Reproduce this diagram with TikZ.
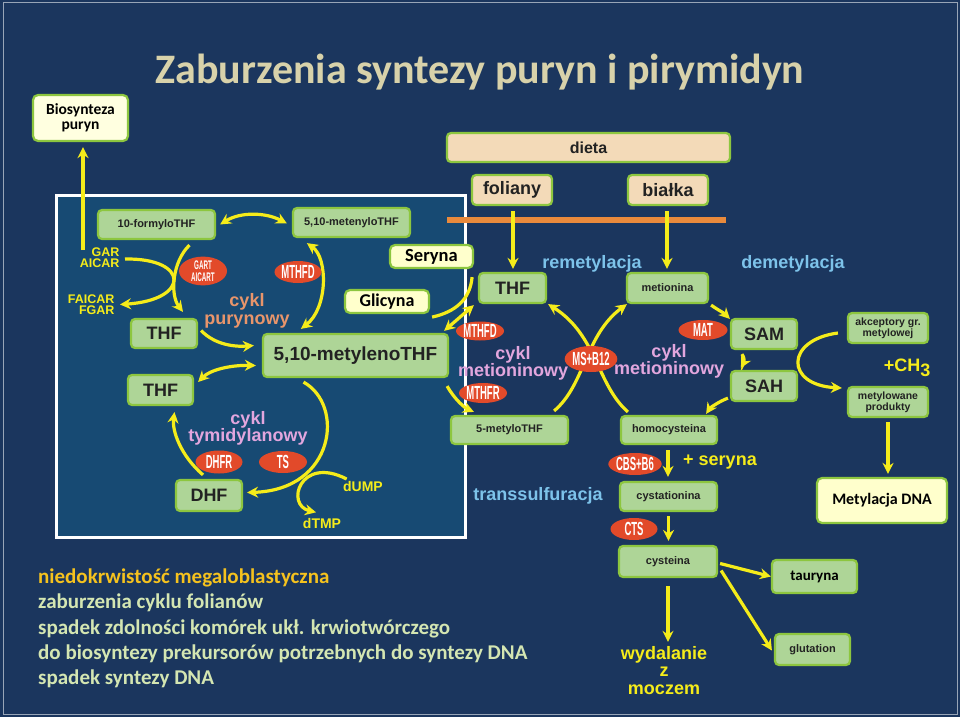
\documentclass[tikz,border=0pt]{standalone}
\usepackage{fontspec}
\setmainfont{Carlito}
\newfontfamily\ls{Liberation Sans}
\newfontfamily\enzf[FakeStretch=0.5]{Liberation Sans}
\usetikzlibrary{arrows.meta,calc,shapes.geometric}
\newcommand\fsz[1]{\fontsize{#1}{#1}\selectfont}
\definecolor{bgc}{HTML}{1B365E}
\definecolor{panelc}{HTML}{174A73}
\definecolor{gborder}{HTML}{8DC63F}
\definecolor{gfill}{HTML}{AED597}
\definecolor{yfill}{HTML}{FFFFCC}
\definecolor{tfill}{HTML}{F3DAB8}
\definecolor{boxtext}{HTML}{222222}
\definecolor{enzred}{HTML}{E24A2A}
\definecolor{arrowy}{HTML}{F5EC1A}
\definecolor{titlec}{HTML}{D8D2AA}
\definecolor{salmon}{HTML}{E8956B}
\definecolor{pinkc}{HTML}{E2A6DE}
\definecolor{bluec}{HTML}{7DC3EA}
\definecolor{goldc}{HTML}{F5C21E}
\definecolor{paleg}{HTML}{D4E6B2}
\definecolor{orangel}{HTML}{E98A3C}
\pgfdeclarelayer{back}
\pgfdeclarelayer{lines}
\pgfsetlayers{back,lines,main}
\tikzset{
  gbox/.style={draw=gborder, line width=2.2pt, fill=gfill, rounded corners=4pt, inner sep=0pt, text=boxtext, font=\ls\bfseries\fsz{#1}},
  gbox/.default=11,
  ybox/.style={draw=gborder, line width=2.2pt, fill=yfill, rounded corners=5pt, inner sep=0pt, text=black, font=\bfseries\fsz{#1}, align=center},
  ybox/.default=16,
  tbox/.style={gbox=#1, fill=tfill},
  enzyme/.style={ellipse, fill=enzred, inner sep=0pt, text=white, font=\enzf\bfseries\fsz{19}},
  lbl/.style={font=\ls\bfseries\fsz{#1}, align=center},
  lbl/.default=18,
  arr/.style={draw=arrowy, line width=3.2pt, -{Stealth[length=11pt,width=11pt]}},
  darr/.style={draw=arrowy, line width=3.2pt, {Stealth[length=11pt,width=11pt]}-{Stealth[length=11pt,width=11pt]}},
  plainy/.style={draw=arrowy, line width=3.2pt},
}
\begin{document}
\begin{tikzpicture}[x=1pt,y=-1pt]
\useasboundingbox (0,0) rectangle (960,717);
\begin{pgfonlayer}{back}
  \fill[bgc] (0,0) rectangle (960,717);
  \draw[color=white!55!bgc, line width=1pt] (3,3) rectangle (957,714);
  \draw[white, line width=3pt, fill=panelc] (56,195) rectangle (465,537);
  \draw[orangel, line width=6pt] (447,220) -- (726,220);
\end{pgfonlayer}

% title
\node[font=\bfseries\fsz{42}, text=titlec] (title) at (480,72) {Zaburzenia syntezy puryn i pirymidyn};

% left panel nodes
\node[ybox=15.5, minimum width=95pt, minimum height=46pt, fill=yfill!60!white] (biosyn) at (80.5,118) {Biosynteza\\[-1pt]puryn};
\node[gbox=11, minimum width=117pt, minimum height=29pt] (form10) at (156.5,224.5) {10-formyloTHF};
\node[gbox=11, minimum width=117pt, minimum height=29pt] (meten) at (351.5,222.5) {5,10-metenyloTHF};
\node[gbox=18, minimum width=66pt, minimum height=29pt] (thfA) at (164,333.5) {THF};
\node[gbox=19, minimum width=185pt, minimum height=43pt] (metyl) at (355.5,355.5) {5,10-metylenoTHF};
\node[gbox=18, minimum width=65pt, minimum height=30pt] (thfB) at (160.5,390) {THF};
\node[gbox=18, minimum width=66pt, minimum height=31pt] (dhf) at (209,495.5) {DHF};
\node[ybox=18.5, minimum width=83pt, minimum height=23pt] (seryna) at (431.5,256.5) {Seryna};
\node[ybox=18, minimum width=84pt, minimum height=23pt] (glicyna) at (387,301.5) {Glicyna};

\node[enzyme, minimum width=48pt, minimum height=25pt, font=\enzf\bfseries\fontsize{12.5}{11.5}\selectfont, align=center] (gart) at (203,271) {GART\\AICART};
\node[enzyme, minimum width=47pt, minimum height=22pt] (mthfdA) at (298,272) {MTHFD};
\node[enzyme, minimum width=47pt, minimum height=23pt] (dhfr) at (219,462) {DHFR};
\node[enzyme, minimum width=48pt, minimum height=22pt] (ts) at (283,462) {TS};

\node[font=\ls\bfseries\fontsize{12.5}{11}\selectfont, text=arrowy, align=right, anchor=east] (gar) at (123,258) {GAR\\AICAR};
\node[font=\ls\bfseries\fontsize{12.5}{11}\selectfont, text=arrowy, align=right, anchor=east] (faicar) at (118,304.5) {FAICAR\\FGAR};
\node[font=\ls\bfseries\fontsize{18}{18}\selectfont, text=salmon, align=center] (cyklP) at (247,311) {cykl\\purynowy};
\node[font=\ls\bfseries\fontsize{18}{17}\selectfont, text=pinkc, align=center] (cyklT) at (248,428) {cykl\\tymidylanowy};
\node[lbl=14, text=arrowy] (dump) at (363,486) {dUMP};
\node[lbl=14, text=arrowy] (dtmp) at (322,523) {dTMP};

% right part nodes
\node[tbox=16, minimum width=283pt, minimum height=29pt] (dieta) at (588.5,147.5) {dieta};
\node[tbox=18, minimum width=80pt, minimum height=30pt] (foliany) at (512,190) {foliany};
\node[tbox=18, minimum width=80pt, minimum height=30pt] (bialka) at (668,190) {białka};
\node[gbox=18, minimum width=67pt, minimum height=30pt] (thfR) at (512.5,288) {THF};
\node[gbox=11, minimum width=81pt, minimum height=30pt] (metionina) at (667.5,288) {metionina};
\node[gbox=18, minimum width=66pt, minimum height=30pt] (sam) at (764,334) {SAM};
\node[gbox=18, minimum width=66pt, minimum height=30pt] (sah) at (764,386) {SAH};
\node[gbox=10.5, minimum width=80pt, minimum height=30pt, align=center, font=\ls\bfseries\fontsize{10.5}{11}\selectfont] (akcept) at (888,328) {akceptory gr.\\metylowej};
\node[gbox=10.5, minimum width=80pt, minimum height=30pt, align=center, font=\ls\bfseries\fontsize{10.5}{11}\selectfont] (metprod) at (888,402) {metylowane\\produkty};
\node[ybox=16, minimum width=130pt, minimum height=45pt] (metdna) at (882,500.5) {Metylacja DNA};
\node[gbox=11, minimum width=117pt, minimum height=28pt] (mthf5) at (509.5,430) {5-metyloTHF};
\node[gbox=11, minimum width=96pt, minimum height=28pt] (hcy) at (669,430) {homocysteina};
\node[gbox=11, minimum width=97pt, minimum height=29pt] (cysta) at (668.5,496.5) {cystationina};
\node[gbox=11, minimum width=98pt, minimum height=31pt] (cyst) at (668,561.5) {cysteina};
\node[gbox=15, minimum width=85pt, minimum height=33pt, font=\bfseries\fsz{15}, text=black] (tauryna) at (814.5,576.5) {tauryna};
\node[gbox=11, minimum width=75pt, minimum height=31pt] (glut) at (812.5,649.5) {glutation};

\node[enzyme, minimum width=48pt, minimum height=19pt] (mthfdB) at (480,331) {MTHFD};
\node[enzyme, minimum width=49pt, minimum height=20pt] (mat) at (703,330) {MAT};
\node[enzyme, minimum width=49pt, minimum height=26pt] (msb) at (591,359) {MS+B12};
\node[enzyme, minimum width=48pt, minimum height=20pt] (mthfr) at (483,393) {MTHFR};
\node[enzyme, minimum width=47pt, minimum height=22pt] (cbs) at (635,464) {CBS+B6};
\node[enzyme, minimum width=47pt, minimum height=22pt] (cts) at (634,529) {CTS};

\node[lbl=18, text=bluec] (remet) at (592,264) {remetylacja};
\node[lbl=18, text=bluec] (demet) at (793,264) {demetylacja};
\node[font=\ls\bfseries\fontsize{18}{17}\selectfont, text=pinkc, align=center] (cyklM1) at (513,363) {cykl\\metioninowy};
\node[font=\ls\bfseries\fontsize{18}{17}\selectfont, text=pinkc, align=center] (cyklM2) at (669,361.5) {cykl\\metioninowy};
\node[lbl=18, text=arrowy] (ch3) at (907,368) {+CH\raisebox{-5pt}{3}};
\node[lbl=18, text=arrowy] (plser) at (720,462) {+ seryna};
\node[lbl=18, text=bluec] (transs) at (538,496) {transsulfuracja};
\node[font=\ls\bfseries\fontsize{18}{17.5}\selectfont, text=arrowy, align=center] (wydal) at (664,670.5) {wydalanie\\z\\moczem};

% bottom text
\node[anchor=base west, font=\bfseries\fsz{21}, text=goldc, inner sep=0pt] (b1) at (38,583) {niedokrwistość megaloblastyczna};
\node[anchor=base west, font=\bfseries\fsz{21}, text=paleg, inner sep=0pt] (b2) at (38,608) {zaburzenia cyklu folianów};
\node[anchor=base west, font=\bfseries\fsz{21}, text=paleg, inner sep=0pt] (b3) at (38,634) {spadek zdolności komórek ukł. krwiotwórczego};
\node[anchor=base west, font=\bfseries\fsz{21}, text=paleg, inner sep=0pt] (b4) at (38,659) {do biosyntezy prekursorów potrzebnych do syntezy DNA};
\node[anchor=base west, font=\bfseries\fsz{21}, text=paleg, inner sep=0pt] (b5) at (38,684) {spadek syntezy DNA};

\coordinate (garTop) at (83,250);

% connectors
\begin{pgfonlayer}{lines}
  \draw[arr] (garTop) -- ($(garTop |- biosyn.south)+(0,5)$);
  \draw[darr] ($(form10.east)+(4,0)$) .. controls (240,212) and (265,212) .. ($(meten.west)+(-5,1)$);
  \draw[darr] ($(meten.south west)+(15,5)$) .. controls (328,258) and (328,308) .. ($(metyl.north west)+(39,-4)$);
  \draw[arr] ($(form10.south)+(33,5)$) .. controls (172,262) and (170,295) .. ($(thfA.north)+(19,-6)$);
  \draw[arr] ($(gar.east)+(2,1)$) .. controls (190,258) and (190,300) .. ($(faicar.east)+(2,0)$);
  \draw[arr] ($(thfA.east)+(3,-3)$) .. controls (215,345) and (235,347) .. ($(metyl.west)+(-8,-10)$);
  \draw[darr] ($(metyl.west)+(-6,10)$) .. controls (230,365) and (210,370) .. ($(thfB.east)+(4,-8)$);
  \draw[arr] ($(metyl.south)+(-52,4)$) .. controls (345,405) and (335,490) .. ($(dhf.east)+(4,-3)$);
  \draw[arr] ($(dhf.north)+(-6,-4)$) .. controls (180,455) and (172,430) .. ($(thfB.south)+(14,6)$);
  \draw[arr] ($(dump.west)+(7,-7)$) .. controls (300,455) and (285,505) .. ($(dtmp.north)+(-6,-2)$);
  \draw[plainy] ($(seryna.south east)+(-2,8)$) .. controls (470,300) and (455,312) .. ($(glicyna.south east)+(2,3)$);
  \draw[darr] ($(thfR.south west)+(-4,1)$) -- ($(metyl.north east)+(-5,-2)$);
  \draw[arr] ($(metyl.south east)+(-2,8)$) .. controls (455,400) and (465,408) .. ($(mthf5.north west)+(24,-3)$);
  \draw[arr] ($(mthf5.north east)+(-15,-4)$) .. controls (585,385) and (585,335) .. ($(metionina.south west)+(1,0)$);
  \draw[arr] ($(hcy.north west)+(8,-3)$) .. controls (597,385) and (597,335) .. ($(thfR.south east)+(1,0)$);
  \draw[arr] ($(foliany.south)+(1,5)$) -- ($(thfR.north)+(0.5,-3)$);
  \draw[arr] ($(bialka.south)+(-1,5)$) -- ($(metionina.north)+(-0.5,-3)$);
  \draw[arr] ($(metionina.south east)+(2,1)$) .. controls (718,310) and (724,313) .. ($(sam.north west)+(0,1)$);
  \draw[arr] ($(sam.south west)+(12,4)$) .. controls (746,360) and (743,364) .. ($(sah.north west)+(11,-2)$);
  \draw[arr] ($(sah.south west)+(-2,-4)$) .. controls (718,402) and (710,408) .. ($(hcy.north east)+(-12,-1)$);
  \draw[arr] ($(akcept.west)+(-9,5)$) .. controls (785,340) and (785,385) .. ($(metprod.west)+(-5,-14)$);
  \draw[arr] ($(metprod.south)+(0,4)$) -- ($(metprod.south |- metdna.north)+(0,-3)$);
  \draw[arr] ($(hcy.south)+(-1,5)$) -- ($(hcy.south |- cysta.north)+(-1,-4)$);
  \draw[arr] ($(cysta.south)+(0,4)$) -- ($(cysta.south |- cyst.north)+(0,-4)$);
  \draw[arr] ($(cyst.east)+(2,2)$) -- (tauryna.west);
  \draw[arr] ($(cyst.east)+(3,9)$) -- ($(glut.west)+(-2,1)$);
  \draw[arr] ($(cyst.south)+(0,8)$) -- ($(cyst.south |- wydal.north)+(0,-1)$);
\end{pgfonlayer}
\end{tikzpicture}
\end{document}
